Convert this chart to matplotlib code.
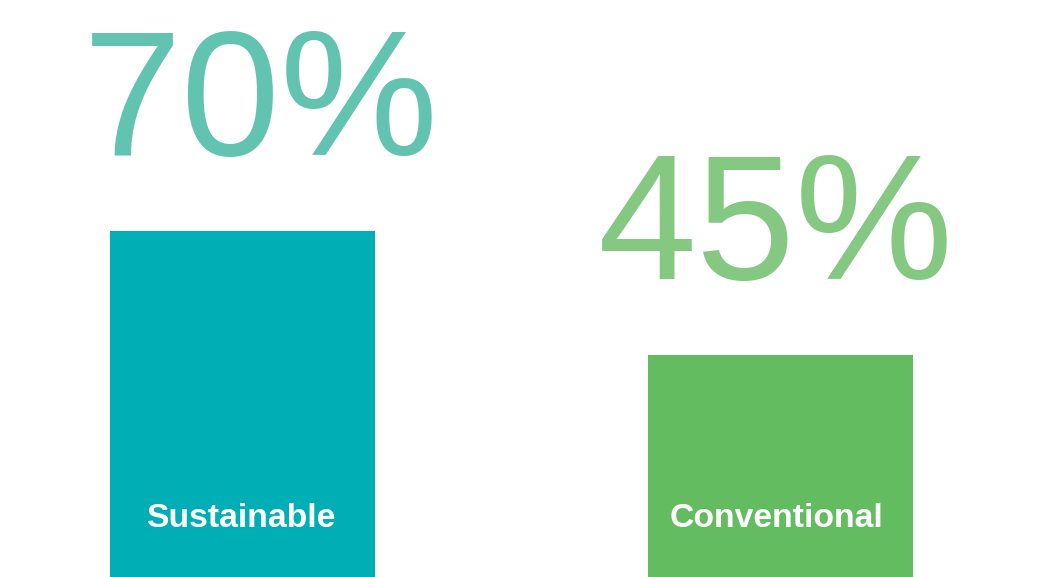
import matplotlib.pyplot as plt

# datos
categorias = ["Sustainable", "Conventional"]
valores = [70, 45]
etiquetas = ["70%", "45%"]
colores_barra = ["#00AFB6", "#64BC61"]
colores_texto = ["#62C4B0", "#84C881"]

plt.rcParams['font.family'] = ['Liberation Sans', 'DejaVu Sans']

fig = plt.figure(figsize=(10.53, 5.77), dpi=100)
ax = fig.add_axes([0, 0, 1, 1])

x = list(range(len(categorias)))
ax.bar(x, valores, width=0.4926, color=colores_barra)

desplaz = [18, -5]  # ajuste horizontal de los porcentajes (px)
desplaz_cat = [-2, -4]
for i, v in enumerate(valores):
    ax.annotate(etiquetas[i], (x[i], v), xytext=(desplaz[i], 76),
                textcoords='offset pixels', ha='center', va='baseline',
                fontsize=128, color=colores_texto[i])
    ax.annotate(categorias[i], (x[i], 0), xytext=(desplaz_cat[i], 50),
                textcoords='offset pixels', ha='center', va='baseline',
                fontsize=24.3, fontweight='bold', color='white')

ax.set_xlim(-0.4507, 1.5065)
ax.set_ylim(0, 577 / 4.94)
ax.axis('off')

plt.savefig("out.png", dpi=100)
